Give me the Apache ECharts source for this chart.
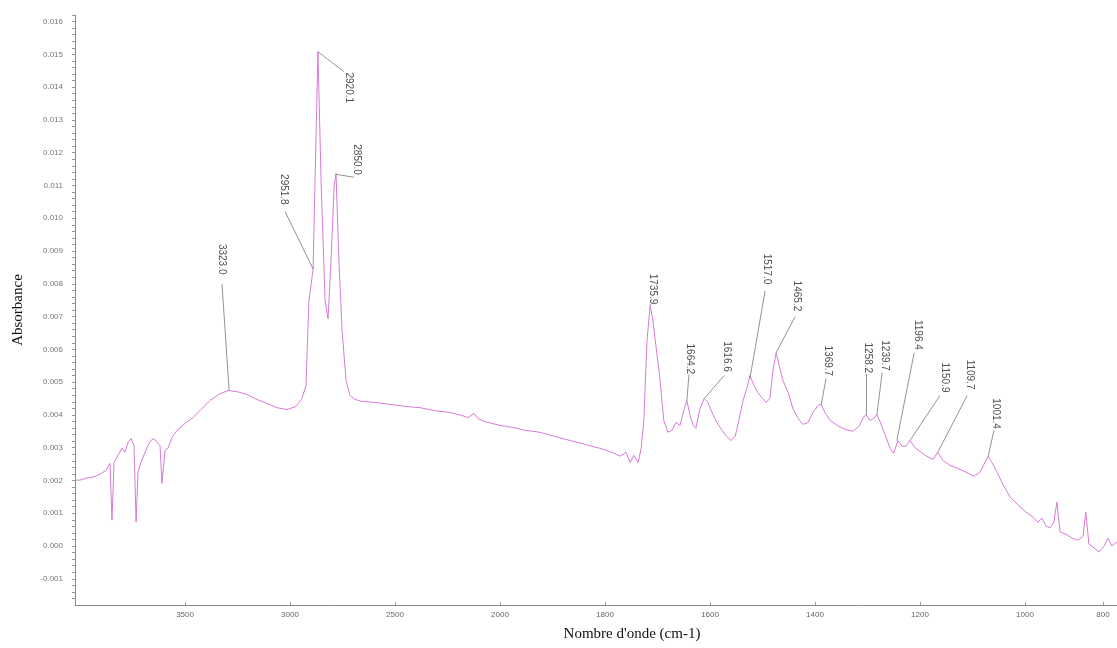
<!DOCTYPE html>
<html>
<head>
<meta charset="utf-8">
<script src="https://cdn.jsdelivr.net/npm/echarts@6/dist/echarts.min.js"></script>
<style>
  html, body { margin: 0; padding: 0; background: #fff; }
  #box { width: 1117px; height: 648px; }
</style>
</head>
<body>
<div id="box"></div>
<script>
// spectre IR : nombre d'onde (cm-1) et absorbance
var wavenumber = [4024,4000,3971,3938,3905,3876,3857,3848,3838,3819,3800,3786,3771,3757,3743,3733,3724,3710,3690,3676,
  3662,3648,3633,3619,3610,3595,3581,3562,3538,3500,3462,3429,3381,3333,3295,3252,3205,3157,3110,3062,
  3014,2971,2943,2924,2910,2890,2881,2867,2852,2833,2819,2805,2790,2781,2767,2752,2733,2714,2690,2657,
  2595,2524,2452,2381,2310,2238,2181,2152,2124,2105,2076,2038,2000,1977,1952,1924,1895,1867,1838,1810,
  1787,1771,1760,1752,1745,1737,1731,1726,1720,1714,1709,1703,1695,1688,1680,1672,1665,1657,1650,1644,
  1638,1632,1627,1619,1611,1604,1596,1587,1577,1568,1560,1552,1545,1537,1530,1524,1516,1509,1501,1493,
  1486,1480,1474,1468,1461,1451,1442,1432,1423,1413,1404,1394,1388,1381,1371,1358,1343,1328,1316,1309,
  1303,1295,1288,1282,1274,1265,1257,1250,1242,1234,1227,1219,1210,1198,1187,1175,1166,1156,1143,1128,
  1112,1097,1086,1078,1070,1063,1053,1042,1028,1013,997,982,967,956,946,936,926,918,910,895,
  879,864,851,844,836,823,810,797,787,777,764];
// absorbance x 1000
var absorbance = [2.01,2.01,2.07,2.10,2.19,2.31,2.52,0.79,2.55,2.77,2.98,2.86,3.16,3.28,3.07,0.73,2.25,2.55,2.86,3.07,
  3.22,3.28,3.16,3.07,1.91,2.92,2.98,3.31,3.53,3.74,3.92,4.13,4.44,4.65,4.74,4.71,4.62,4.47,4.35,4.22,
  4.16,4.26,4.50,4.89,7.48,8.45,11.12,15.08,11.1,7.48,6.93,8.69,10.97,11.37,8.69,6.57,5.05,4.59,4.47,4.41,
  4.38,4.32,4.26,4.22,4.13,4.07,3.98,3.92,4.04,3.89,3.80,3.74,3.68,3.62,3.53,3.47,3.34,3.22,3.10,2.98,
  2.86,2.74,2.86,2.55,2.77,2.55,2.98,3.83,6.26,7.33,6.93,6.11,5.05,3.83,3.47,3.53,3.77,3.68,4.13,4.44,
  3.98,3.68,3.59,4.19,4.50,4.38,4.07,3.77,3.53,3.34,3.22,3.34,3.83,4.44,4.80,5.20,4.89,4.68,4.53,4.38,
  4.50,5.35,5.90,5.50,5.05,4.68,4.19,3.89,3.71,3.77,4.07,4.29,4.32,4.07,3.83,3.68,3.56,3.50,3.65,3.89,
  4.01,3.83,3.89,4.01,3.71,3.34,2.98,2.83,3.22,3.04,3.04,3.22,3.01,2.86,2.74,2.64,2.86,2.61,2.46,2.37,
  2.25,2.13,2.25,2.49,2.74,2.55,2.25,1.88,1.49,1.25,1.03,0.91,0.73,0.85,0.61,0.55,0.73,1.34,0.43,0.36,
  0.24,0.18,0.30,1.03,0.06,-0.06,-0.18,0.00,0.24,0.00,0.12];

// pics annotés
var peakNames = ["3323.0","2951.8","2920.1","2850.0","1735.9","1664.2","1616.6","1517.0",
  "1465.2","1369.7","1258.2","1239.7","1196.4","1150.9","1109.7","1001.4"];
var labelWn  = [3324,3029,2719,2681,1709,1638,1569,1491,1434,1375,1299,1268,1204,1153,1105,1055];
var labelAbs = [8.75,10.88,13.98,11.79,7.84,5.71,5.78,8.45,7.63,5.65,5.74,5.81,6.44,5.14,5.23,4.04];
var leadFromWn  = [3290,2890,2867,2781,1714,1644,1611,1524,1474,1388,1303,1282,1244,1219,1166,1070];
var leadFromAbs = [4.74,8.45,15.08,11.34,7.33,4.44,4.50,5.11,5.90,4.32,4.01,4.01,3.22,3.22,2.86,2.74];
var leadToWn  = [3324,3024,2743,2695,1712,1640,1573,1495,1438,1379,1303,1272,1211,1162,1110,1059];
var leadToAbs = [7.99,10.21,14.47,11.25,7.40,5.23,5.20,7.78,6.99,5.11,5.26,5.29,5.90,4.59,4.59,3.53];

var xTicks = [3500,3000,2500,2000,1800,1600,1400,1200,1000,800];
var yTicks = [-0.001,0,0.001,0.002,0.003,0.004,0.005,0.006,0.007,0.008,0.009,0.010,0.011,0.012,0.013,0.014,0.015,0.016];

// echelle compressée au dessus de 2000 et en dessous de 1000
function toU(w) {
  if (w >= 2000) return 2000 + (w - 2000) * 0.4;
  if (w >= 1000) return w;
  return 1000 - (1000 - w) * 0.743;
}
function fromU(u) {
  if (u >= 2000) return 2000 + (u - 2000) / 0.4;
  if (u >= 1000) return u;
  return 1000 - (1000 - u) / 0.743;
}

var curve = [];
for (var i = 0; i < Math.min(wavenumber.length, absorbance.length); i++) {
  curve.push([toU(wavenumber[i]), absorbance[i] / 1000]);
}
var labels = [], leaders = [];
for (var j = 0; j < peakNames.length; j++) {
  labels.push({ name: peakNames[j], value: [toU(labelWn[j]), labelAbs[j] / 1000] });
  leaders.push({ coords: [[toU(leadFromWn[j]), leadFromAbs[j] / 1000], [toU(leadToWn[j]), leadToAbs[j] / 1000]] });
}
var yMinor = [];
for (var k = -9; k <= 81; k++) yMinor.push(k * 0.0002);

var myChart = echarts.init(document.getElementById("box"));
myChart.setOption({
  animation: false,
  backgroundColor: "#fff",
  grid: { left: 75, right: 0, top: 15, bottom: 43, containLabel: false, outerBoundsMode: "none" },
  xAxis: {
    type: "value",
    inverse: true,
    min: toU(764),
    max: toU(4024),
    name: "Nombre d'onde (cm-1)",
    nameLocation: "middle",
    nameGap: 22,
    nameTextStyle: { fontFamily: "Liberation Serif", fontSize: 15, color: "#111", padding: [0, 0, 0, 72] },
    axisLine: { show: true, onZero: false, lineStyle: { color: "#888", width: 1 } },
    axisTick: { show: true, inside: true, length: 3, customValues: xTicks.map(toU), lineStyle: { color: "#999" } },
    axisLabel: {
      customValues: xTicks.map(toU),
      formatter: function (v) { return String(Math.round(fromU(v))); },
      fontSize: 8, color: "#666", margin: 6, fontFamily: "Liberation Sans"
    },
    splitLine: { show: false }
  },
  yAxis: {
    type: "value",
    min: -0.0018,
    max: 0.0162,
    name: "Absorbance",
    nameLocation: "middle",
    nameGap: 49,
    nameRotate: 90,
    nameTextStyle: { fontFamily: "Liberation Serif", fontSize: 15, color: "#111" },
    axisLine: { show: true, onZero: false, lineStyle: { color: "#888", width: 1 } },
    axisTick: { show: true, length: 3, customValues: yMinor, lineStyle: { color: "#999" } },
    axisLabel: {
      customValues: yTicks,
      formatter: function (v) { return v.toFixed(3); },
      fontSize: 8, color: "#777", margin: 12, fontFamily: "Liberation Sans"
    },
    splitLine: { show: false }
  },
  series: [
    {
      type: "line",
      data: curve,
      showSymbol: false,
      smooth: false,
      lineStyle: { color: "#d67ad6", width: 1 },
      z: 2
    },
    {
      type: "lines",
      coordinateSystem: "cartesian2d",
      data: leaders,
      lineStyle: { color: "#777", width: 0.8, opacity: 1 },
      z: 3
    },
    {
      type: "scatter",
      data: labels,
      symbolSize: 1,
      itemStyle: { color: "rgba(0,0,0,0)" },
      label: {
        show: true,
        position: "inside",
        rotate: -90,
        formatter: "{b}",
        fontSize: 10,
        color: "#222",
        fontFamily: "Liberation Sans"
      },
      z: 4
    }
  ]
});
</script>
</body>
</html>
